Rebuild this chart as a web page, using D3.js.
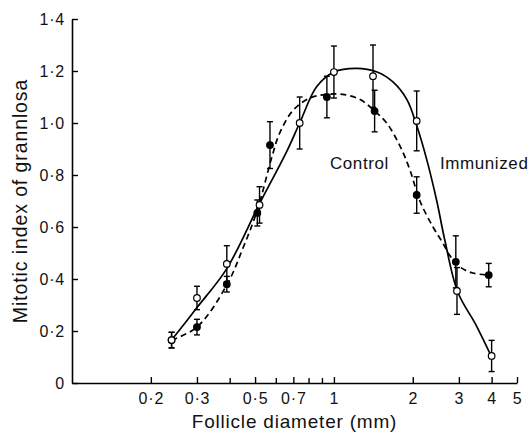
<!DOCTYPE html>
<html>
<head>
<meta charset="utf-8">
<script src="https://cdn.jsdelivr.net/npm/d3@7"></script>
<style>
  html, body { margin: 0; padding: 0; background: #fff; }
  svg { display: block; }
</style>
</head>
<body>
<svg id="chart" width="529" height="433"></svg>
<script>
// ---- Data ----
const xTicks = [0.2, 0.3, 0.5, 0.7, 1, 2, 3, 4, 5];
const xMinorTicks = [0.4, 0.6, 0.8, 0.9];
const yTicks = [0, 0.2, 0.4, 0.6, 0.8, 1.0, 1.2, 1.4];

// Control (open circles, solid fitted curve)
const controlX   = [0.24, 0.30, 0.39, 0.52, 0.74, 1.0, 1.41, 2.07, 2.95, 4.0];
const controlY   = [0.165, 0.327, 0.458, 0.685, 1.0, 1.196, 1.18, 1.008, 0.354, 0.104];
const controlErr = [0.03, 0.045, 0.07, 0.07, 0.1, 0.1, 0.12, 0.115, 0.09, 0.06];

// Immunized (filled circles, dashed fitted curve)
const immX   = [0.24, 0.30, 0.39, 0.51, 0.57, 0.94, 1.43, 2.07, 2.92, 3.9];
const immY   = [0.165, 0.215, 0.38, 0.654, 0.915, 1.1, 1.046, 0.723, 0.466, 0.415];
const immErr = [0.03, 0.03, 0.03, 0.05, 0.09, 0.08, 0.08, 0.07, 0.1, 0.045];

// Fitted curves
const controlCurveX = [0.24, 0.30, 0.39, 0.52, 0.66, 0.74, 0.86, 1.0, 1.22, 1.46, 1.68, 1.9, 2.07, 2.26, 2.47, 2.65, 2.97, 3.5, 4.0];
const controlCurveY = [0.165, 0.29, 0.44, 0.69, 0.89, 1.0, 1.14, 1.196, 1.21, 1.196, 1.158, 1.09, 0.99, 0.86, 0.70, 0.55, 0.35, 0.22, 0.10];
const immCurveX = [0.24, 0.30, 0.39, 0.45, 0.51, 0.58, 0.62, 0.70, 0.81, 0.94, 1.08, 1.26, 1.43, 1.59, 1.79, 1.95, 2.13, 2.39, 2.60, 2.77, 3.03, 3.39, 3.9];
const immCurveY = [0.165, 0.215, 0.377, 0.52, 0.665, 0.87, 0.96, 1.05, 1.096, 1.11, 1.11, 1.09, 1.046, 1.0, 0.91, 0.82, 0.70, 0.60, 0.54, 0.49, 0.446, 0.423, 0.415];

const xTitle = "Follicle diameter (mm)";
const yTitle = "Mitotic index of grannlosa";
const labels = [
  { text: "Control", x: 1.0, y: 0.825 },
  { text: "Immunized", x: 2.63, y: 0.825 }
];

// ---- Drawing ----
const svg = d3.select("#chart");
const FONT = "'Liberation Sans', Arial, Helvetica, sans-serif";
const x = d3.scaleLog().domain([0.1, 5]).range([72, 517]);
const y = d3.scaleLinear().domain([0, 1.4]).range([383, 19]);

const fmtX = d => Number.isInteger(d) ? String(d) : d.toFixed(1).replace(".", "\u00B7");
const fmtY = d => d === 0 ? "0" : d.toFixed(1).replace(".", "\u00B7");

// x axis
svg.append("g").attr("transform", `translate(0,${y(0)})`)
  .call(d3.axisBottom(x).tickValues(xTicks).tickFormat(fmtX).tickSizeInner(-6).tickSizeOuter(0).tickPadding(10));
svg.append("g").attr("transform", `translate(0,${y(0)})`)
  .call(d3.axisBottom(x).tickValues(xMinorTicks).tickFormat("").tickSizeInner(-5).tickSizeOuter(0))
  .select(".domain").remove();

// y axis
svg.append("g").attr("transform", `translate(${x(0.1)},0)`)
  .call(d3.axisLeft(y).tickValues(yTicks).tickFormat(fmtY).tickSizeInner(-6).tickSizeOuter(0).tickPadding(7));

svg.selectAll(".domain").attr("stroke", "#000").attr("stroke-width", 1.6);
svg.selectAll(".tick line").attr("stroke", "#000").attr("stroke-width", 1.4);
svg.selectAll(".tick text").attr("fill", "#111").style("font-family", FONT)
  .style("font-size", "16px").style("letter-spacing", "0.8px");

// axis titles
svg.append("text").attr("x", (x.range()[0] + x.range()[1]) / 2).attr("y", 428)
  .attr("text-anchor", "middle").style("font-family", FONT).style("font-size", "19px")
  .style("letter-spacing", "0.8px").attr("fill", "#111").text(xTitle);
svg.append("text").attr("transform", `translate(27,${(y(0) + y(1.4)) / 2}) rotate(-90)`)
  .attr("text-anchor", "middle").style("font-family", FONT).style("font-size", "19.5px")
  .style("letter-spacing", "0.9px").attr("fill", "#111").text(yTitle);

// curves
const line = d3.line().x(d => x(d[0])).y(d => y(d[1])).curve(d3.curveCatmullRom.alpha(0.5));
svg.append("path").datum(controlCurveX.map((v, i) => [v, controlCurveY[i]]))
  .attr("d", line).attr("fill", "none").attr("stroke", "#000").attr("stroke-width", 1.7);
svg.append("path").datum(immCurveX.map((v, i) => [v, immCurveY[i]]))
  .attr("d", line).attr("fill", "none").attr("stroke", "#000").attr("stroke-width", 1.7)
  .attr("stroke-dasharray", "6,4");

// error bars + markers
function drawSeries(xs, ys, es, filled) {
  const data = xs.map((v, i) => ({ x: v, y: ys[i], e: es[i] }));
  const g = svg.append("g");
  const eb = g.selectAll("g.eb").data(data).join("g").attr("class", "eb");
  eb.append("line").attr("x1", d => x(d.x)).attr("x2", d => x(d.x))
    .attr("y1", d => y(d.y - d.e)).attr("y2", d => y(d.y + d.e))
    .attr("stroke", "#000").attr("stroke-width", 1.4);
  eb.append("line").attr("x1", d => x(d.x) - 3).attr("x2", d => x(d.x) + 3)
    .attr("y1", d => y(d.y + d.e)).attr("y2", d => y(d.y + d.e))
    .attr("stroke", "#000").attr("stroke-width", 1.4);
  eb.append("line").attr("x1", d => x(d.x) - 3).attr("x2", d => x(d.x) + 3)
    .attr("y1", d => y(d.y - d.e)).attr("y2", d => y(d.y - d.e))
    .attr("stroke", "#000").attr("stroke-width", 1.4);
  g.selectAll("circle").data(data).join("circle")
    .attr("cx", d => x(d.x)).attr("cy", d => y(d.y)).attr("r", 3.3)
    .attr("fill", filled ? "#000" : "#fff").attr("stroke", "#000").attr("stroke-width", 1.2);
}
drawSeries(immX, immY, immErr, true);
drawSeries(controlX, controlY, controlErr, false);

// annotations
svg.selectAll("text.lbl").data(labels).join("text").attr("class", "lbl")
  .attr("x", d => x(d.x) - 4).attr("y", d => y(d.y))
  .style("font-family", FONT).style("font-size", "17px").style("letter-spacing", "0.6px")
  .attr("fill", "#111").text(d => d.text);
</script>
</body>
</html>
